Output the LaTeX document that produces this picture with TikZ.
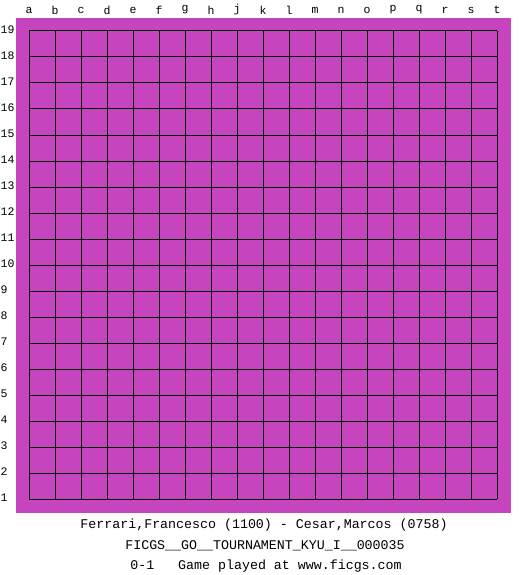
\documentclass[tikz,border=0pt]{standalone}
\usepackage{fontspec}
\setmonofont{Liberation Mono}
\definecolor{board}{RGB}{198,68,190}
\tikzset{
  lbl/.style={font=\ttfamily\fontsize{11.5}{13}\selectfont, inner sep=0pt},
  caption/.style={font=\ttfamily\fontsize{13.3}{15}\selectfont, inner sep=0pt, anchor=center},
  gridline/.style={line width=1pt, black}
}
\begin{document}
\begin{tikzpicture}[x=1pt,y=-1pt]
\useasboundingbox (0,0) rectangle (525,575);
\fill[white] (0,0) rectangle (525,575);
\fill[board] (16,18) rectangle (511,513);
\foreach \i in {0,...,18} {
  \draw[gridline] ({29+26*\i},31) -- ({29+26*\i},499);
  \draw[gridline] (29,{31+26*\i}) -- (497,{31+26*\i});
}
\foreach \l [count=\i from 0] in {a,b,c,d,e,f,g,h,j,k,l,m,n,o,p,q,r,s,t} {
  \node[lbl] (col\l) at ({29+26*\i},10) {\l};
}
\foreach \n [count=\i from 0] in {19,18,...,1} {
  \node[lbl, anchor=west] (row\n) at (0.5,{30+26*\i}) {\n};
}
\node[caption] (players) at (264,525) {Ferrari,Francesco (1100) - Cesar,Marcos (0758)};
\node[caption] (event) at (265,546) {FICGS\_\_GO\_\_TOURNAMENT\_KYU\_I\_\_000035};
\node[caption] (result) at (266,566) {0-1\ \ \ Game played at www.ficgs.com};
\end{tikzpicture}
\end{document}
